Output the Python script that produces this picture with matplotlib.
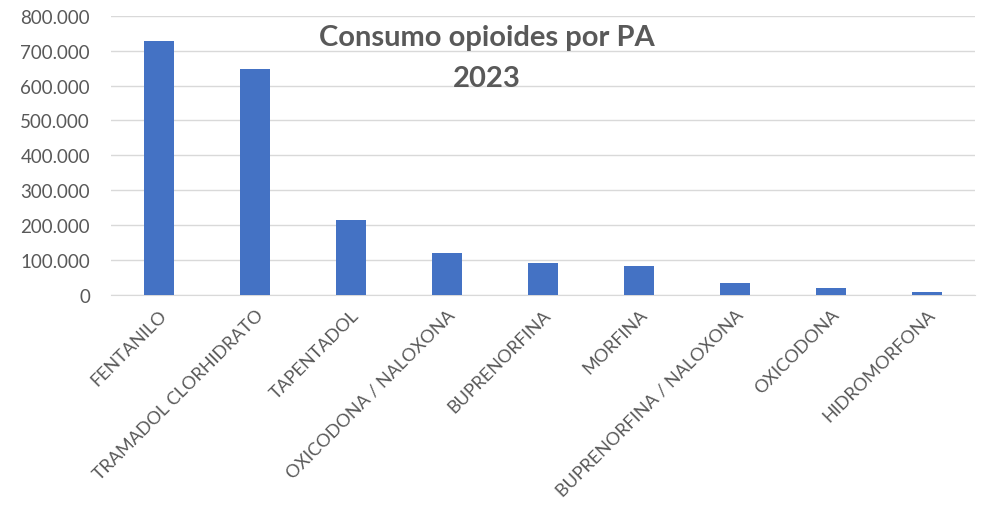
import matplotlib
matplotlib.use("Agg")
import matplotlib.pyplot as plt
from matplotlib.ticker import FuncFormatter

categories = ["FENTANILO", "TRAMADOL CLORHIDRATO", "TAPENTADOL", "OXICODONA / NALOXONA",
              "BUPRENORFINA", "MORFINA", "BUPRENORFINA / NALOXONA", "OXICODONA", "HIDROMORFONA"]
values = [727000, 647000, 214000, 119000, 91000, 83000, 34000, 19000, 8000]
yticks = [0, 100000, 200000, 300000, 400000, 500000, 600000, 700000, 800000]

plt.rcParams['font.family'] = ['Lato', 'DejaVu Sans']
txt = '#595959'

fig = plt.figure(figsize=(9.81, 5.06), dpi=100)
ax = fig.add_axes([0.113, 0.415, 0.881, 0.552])
x = range(len(categories))
ax.bar(x, values, width=0.31, color='#4472c4', zorder=3)
ax.set_xlim(-0.5, len(categories) - 0.5)
ax.set_ylim(0, 800000)
ax.set_yticks(yticks)
ax.yaxis.set_major_formatter(FuncFormatter(lambda v, p: f"{int(v):,}".replace(",", ".")))
ax.grid(axis='y', color='#d9d9d9', linewidth=1, zorder=0)
for s in ['top', 'right', 'left']:
    ax.spines[s].set_visible(False)
ax.spines['bottom'].set_color('#d9d9d9')
ax.tick_params(axis='both', length=0, colors=txt)
ax.tick_params(axis='y', pad=15, labelsize=13.5)
ax.set_xticks(list(x))
ax.set_xticklabels(categories, rotation=45, ha='right', rotation_mode='anchor', fontsize=13, color=txt)
ax.tick_params(axis='x', pad=8)
fig.text(0.496, 0.884, "Consumo opioides por PA\n2023", ha='center', va='center',
         fontsize=21, fontweight='bold', color=txt, linespacing=1.7)
fig.savefig("out.png", dpi=100)
